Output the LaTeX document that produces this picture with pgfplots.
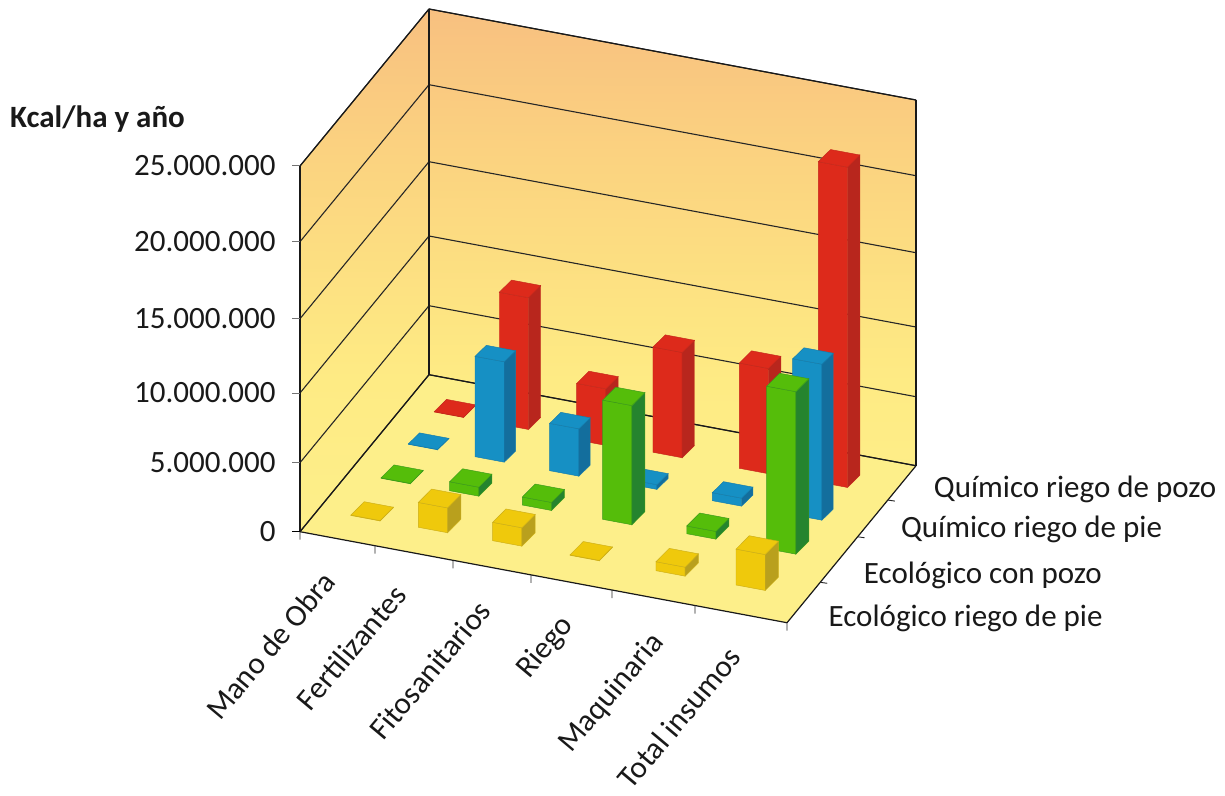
\documentclass[border=0pt]{standalone}
\usepackage{fontspec}
\setmainfont{Carlito}
\usepackage{pgfplots}
\pgfplotsset{compat=1.18}

\definecolor{redF}{HTML}{DD2A1B}\definecolor{redS}{HTML}{B8261D}\definecolor{redE}{HTML}{C4281C}
\definecolor{blueF}{HTML}{1690C4}\definecolor{blueS}{HTML}{136E9D}\definecolor{blueE}{HTML}{147CAC}
\definecolor{greenF}{HTML}{55BD0A}\definecolor{greenS}{HTML}{25842E}\definecolor{greenE}{HTML}{3A9A1C}
\definecolor{yelF}{HTML}{EFC90C}\definecolor{yelS}{HTML}{B9A01D}\definecolor{yelE}{HTML}{CCAE18}
\definecolor{floorc}{HTML}{FDEF8A}

% one box of the chart: left edge, front edge, value (millions), three colours, depth
\newcommand{\barbox}[7]{%
  \pgfmathsetmacro\ua{#1+0.36}%
  \pgfmathsetmacro\ub{#1+0.384}%
  \pgfmathsetmacro\uc{#1+0.024}%
  \pgfmathsetmacro\vb{#2+#7}%
  \addplot3[draw=#6,line width=0.45pt,fill=#4] coordinates {(#1,#2,0)(\ua,#2,0)(\ua,#2,#3)(#1,#2,#3)} -- cycle;
  \addplot3[draw=#6,line width=0.45pt,fill=#5] coordinates {(\ua,#2,0)(\ub,\vb,0)(\ub,\vb,#3)(\ua,#2,#3)} -- cycle;
  \addplot3[draw=#6,line width=0.45pt,fill=#4] coordinates {(#1,#2,#3)(\ua,#2,#3)(\ub,\vb,#3)(\uc,\vb,#3)} -- cycle;
}
\newcommand{\redbar}[3]{\barbox{#1}{#2}{#3}{redF}{redS}{redE}{0.32}}
\newcommand{\bluebar}[3]{\barbox{#1}{#2}{#3}{blueF}{blueS}{blueE}{0.29}}
\newcommand{\greenbar}[3]{\barbox{#1}{#2}{#3}{greenF}{greenS}{greenE}{0.34}}
\newcommand{\yelbar}[3]{\barbox{#1}{#2}{#3}{yelF}{yelS}{yelE}{0.35}}

\begin{document}
\begin{tikzpicture}
\path (-300pt,-262.3pt) rectangle (925pt,531.7pt);
\begin{axis}[
  anchor=origin,
  x={(81.17pt,-15.17pt)},y={(32.25pt,39.25pt)},z={(0pt,1pt)},
  xmin=0,xmax=6,ymin=0,ymax=4,zmin=0,zmax=25,
  clip=false,set layers=standard,
  3d box=background,
  z coord trafo/.code={\pgfmathparse{#1<=5 ? #1*13.8 : (#1<=10 ? 69+(#1-5)*13.94 : (#1<=15 ? 138.7+(#1-10)*14.86 : (#1<=20 ? 213+(#1-15)*15.4 : 290+(#1-20)*15.14)))}},
  axis line style={black!90,line width=1.2pt},
  major tick length=0pt,
  zmajorgrids,major grid style={black!85,line width=1.1pt},
  xtick={0.43,1.31,2.35,3.38,4.495,5.43},
  xticklabels={Mano de Obra\hspace{-45pt},Fertilizantes,Fitosanitarios,Riego,Maquinaria,Total insumos},
  xticklabel style={xshift=-4pt,yshift=-35pt,rotate=50,anchor=east,font=\fontsize{31}{31}\selectfont,text=black!90},
  ytick={0.375,1.47,2.62,3.64},
  yticklabels={Ecológico riego de pie,Ecológico con pozo,Químico riego de pie,Químico riego de pozo},
  yticklabel style={anchor=west,xshift=26pt,yshift=-10pt,font=\fontsize{31}{31}\selectfont,text=black!90},
  ztick={0,5,10,15,20,25},
  zticklabels={\raisebox{-5pt}{0},5.000.000,10.000.000,15.000.000,20.000.000,25.000.000},
  zticklabel style={anchor=east,xshift=-21pt,font=\fontsize{31}{31}\selectfont,text=black!90},
  colormap={wall}{rgb255(0pt)=(248,192,128); rgb255(150pt)=(251,211,128); rgb255(300pt)=(253,228,130); rgb255(370pt)=(254,235,132); rgb255(524pt)=(253,239,138)},
  point meta min=8,point meta max=532,
]
% walls and floor
\addplot3[on layer=axis background,surf,shader=interp,point meta=explicit,mesh/rows=2]
  coordinates {(0,0,0)[531.7] (0,4,0)[374] (0,0,25)[166] (0,4,25)[8]};
\addplot3[on layer=axis background,surf,shader=interp,point meta=explicit,mesh/rows=2]
  coordinates {(0,4,0)[374] (6,4,0)[461] (0,4,25)[8] (6,4,25)[97]};
\addplot3[on layer=axis background,fill=floorc,draw=none]
  coordinates {(0,0,0)(6,0,0)(6,4,0)(0,4,0)} -- cycle;

% Químico riego de pozo
\redbar{0.384}{3.198}{0.03}
\redbar{1.183}{3.201}{9.5}
\redbar{2.150}{3.168}{4.1}
\redbar{3.073}{3.211}{7.6}
\redbar{4.135}{3.214}{7.6}
\redbar{5.099}{3.237}{22.0}
% Químico riego de pie
\bluebar{0.390}{2.377}{0.03}
\bluebar{1.211}{2.379}{7.25}
\bluebar{2.131}{2.378}{3.43}
\bluebar{3.080}{2.408}{0.34}
\bluebar{4.131}{2.387}{0.58}
\bluebar{5.113}{2.409}{11.16}
% Ecológico con pozo
\greenbar{0.397}{1.514}{0.03}
\greenbar{1.239}{1.523}{0.65}
\greenbar{2.140}{1.507}{0.58}
\greenbar{3.124}{1.523}{8.6}
\greenbar{4.148}{1.552}{0.56}
\greenbar{5.133}{1.551}{11.6}
% Ecológico riego de pie
\yelbar{0.402}{0.568}{0.03}
\yelbar{1.225}{0.586}{1.8}
\yelbar{2.137}{0.597}{1.33}
\yelbar{3.091}{0.593}{0.03}
\yelbar{4.144}{0.608}{0.65}
\yelbar{5.124}{0.623}{2.6}

% tick marks
\draw[black!85,line width=0.9pt]
  (axis cs:0,0,0) -- ++(0,-8pt)
  (axis cs:0.924,0,0) -- ++(0,-8pt)
  (axis cs:1.885,0,0) -- ++(0,-8pt)
  (axis cs:2.846,0,0) -- ++(0,-8pt)
  (axis cs:3.844,0,0) -- ++(0,-8pt)
  (axis cs:4.866,0,0) -- ++(0,-8pt)
  (axis cs:6,0,0) -- ++(0,-8pt)
  (axis cs:6,1.03,0) -- ++(7pt,-1pt)
  (axis cs:6,2.19,0) -- ++(7pt,-1pt)
  (axis cs:6,3.125,0) -- ++(7pt,-1pt);
\draw[black!55,line width=1pt]
  (axis cs:0,0,5) -- ++(-8pt,0)
  (axis cs:0,0,10) -- ++(-8pt,0)
  (axis cs:0,0,15) -- ++(-8pt,0)
  (axis cs:0,0,20) -- ++(-8pt,0)
  (axis cs:0,0,25) -- ++(-8pt,0);
\draw[black,line width=0.9pt] (axis cs:0,0,0) -- ++(-8pt,0);
\end{axis}
\node[anchor=west,inner sep=0pt,font=\fontsize{31}{31}\selectfont\bfseries,text=black!90] at (-290pt,413pt) {Kcal/ha y año};
\end{tikzpicture}
\end{document}
